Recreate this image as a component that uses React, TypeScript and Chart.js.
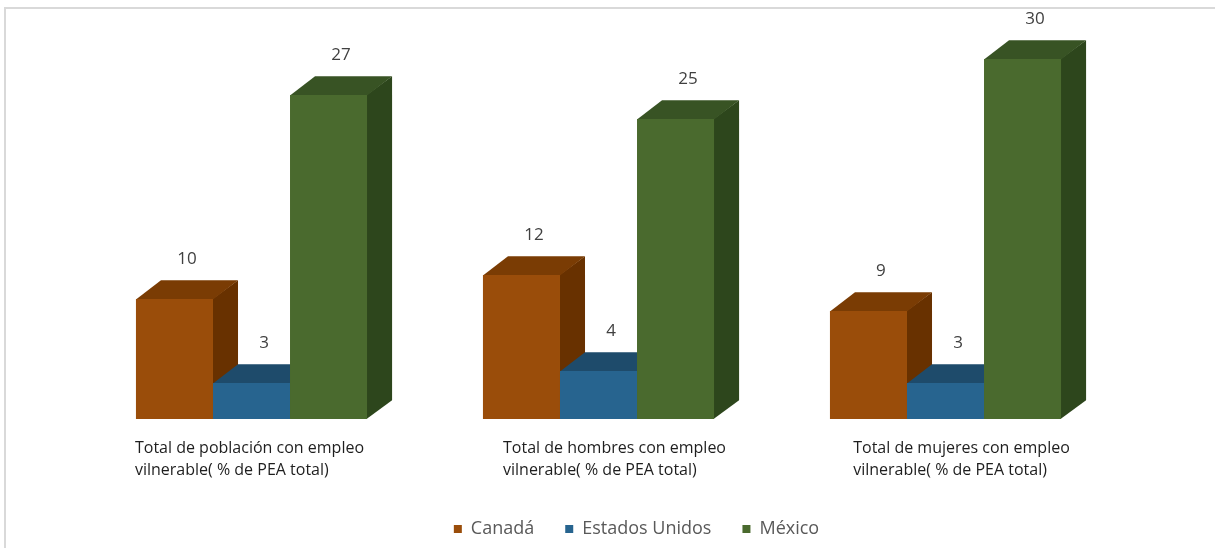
import React, { useEffect, useRef } from "react";
import { Chart, registerables } from "chart.js";

Chart.register(...registerables);

// ---------- data ----------
const categoryLine1 = [
  "Total de población con empleo",
  "Total de hombres con empleo",
  "Total de mujeres con empleo",
];
const categoryLine2 = [
  "vilnerable( % de PEA total)",
  "vilnerable( % de PEA total)",
  "vilnerable( % de PEA total)",
];
const seriesNames = ["Canadá", "Estados Unidos", "México"];
const canadaValues = [10, 12, 9];
const estadosUnidosValues = [3, 4, 3];
const mexicoValues = [27, 25, 30];
const yMin = 0;
const yMax = 32;

// ---------- styles ----------
const frontColors = ["#9A4D0A", "#27648F", "#4A6A2E"];
const topColors = ["#7A3C04", "#1E4B6B", "#385324"];
const sideColors = ["#683100", "#1A4060", "#2D461C"];
const FONT = "'Open Sans', 'Noto Sans', sans-serif";
const labelShift = [-2, 16, 16];

const bars3d = {
  id: "bars3d",
  beforeDraw(chart: any) {
    const ctx = chart.ctx;
    ctx.save();
    ctx.fillStyle = "#ffffff";
    ctx.fillRect(0, 0, chart.width, chart.height);
    ctx.strokeStyle = "#d9d9d9";
    ctx.lineWidth = 2;
    ctx.strokeRect(5, 8, chart.width + 50, chart.height + 50);
    ctx.restore();
  },
  beforeDatasetsDraw(chart: any) {
    const ctx = chart.ctx;
    ctx.save();
    const geo: any[] = [];
    chart.data.datasets.forEach((ds: any, di: number) => {
      const meta = chart.getDatasetMeta(di);
      meta.data.forEach((el: any, i: number) => {
        const { x, y, base, width } = el.getProps(["x", "y", "base", "width"], true);
        const l = x - width / 2;
        const r = x + width / 2;
        const dx = width * 0.325;
        const dy = width * 0.245;
        // side face
        ctx.fillStyle = sideColors[di];
        ctx.beginPath();
        ctx.moveTo(r - 0.5, y);
        ctx.lineTo(r + dx, y - dy);
        ctx.lineTo(r + dx, base - dy);
        ctx.lineTo(r - 0.5, base);
        ctx.closePath();
        ctx.fill();
        // top face
        ctx.fillStyle = topColors[di];
        ctx.beginPath();
        ctx.moveTo(l, y + 0.5);
        ctx.lineTo(l + dx, y - dy);
        ctx.lineTo(r + dx, y - dy);
        ctx.lineTo(r, y + 0.5);
        ctx.closePath();
        ctx.fill();
        // front face
        ctx.fillStyle = frontColors[di];
        ctx.fillRect(l, y, width, base - y);
        geo.push({ x: x + dx / 2, y: y - dy, v: ds.data[i] });
      });
    });
    // value labels
    ctx.fillStyle = "#404040";
    ctx.font = `17px ${FONT}`;
    ctx.textAlign = "center";
    ctx.textBaseline = "middle";
    geo.forEach((g) => ctx.fillText(String(g.v), g.x, g.y - 21));
    // category labels
    const xs = chart.scales.x;
    const area = chart.chartArea;
    ctx.fillStyle = "#1e1e1e";
    ctx.font = `16px ${FONT}`;
    ctx.textAlign = "left";
    ctx.textBaseline = "alphabetic";
    categoryLine1.forEach((t1, i) => {
      const t2 = categoryLine2[i];
      const w = Math.max(ctx.measureText(t1).width, ctx.measureText(t2).width);
      const cx = xs.getPixelForValue(i) + labelShift[i];
      const left = cx - w / 2;
      ctx.fillText(t1, left, area.bottom + 34);
      ctx.fillText(t2, left, area.bottom + 56);
    });
    ctx.restore();
    return false;
  },
};

export default function App() {
  const ref = useRef<HTMLCanvasElement | null>(null);
  useEffect(() => {
    if (!ref.current) return;
    const hidden = {
      grid: { display: false },
      border: { display: false },
      ticks: { display: false },
    };
    const chart = new Chart(ref.current, {
      type: "bar",
      data: {
        labels: categoryLine1,
        datasets: [
          { label: seriesNames[0], data: canadaValues, backgroundColor: frontColors[0] },
          { label: seriesNames[1], data: estadosUnidosValues, backgroundColor: frontColors[1] },
          { label: seriesNames[2], data: mexicoValues, backgroundColor: frontColors[2] },
        ],
      },
      options: {
        responsive: false,
        animation: false,
        devicePixelRatio: 1,
        layout: { padding: { left: 58, right: 0, top: 35, bottom: 0 } },
        datasets: { bar: { categoryPercentage: 0.666, barPercentage: 1 } },
        scales: {
          x: {
            type: "category",
            ...hidden,
            afterFit: (s: any) => {
              s.height = 70;
            },
          },
          y: {
            type: "linear",
            min: yMin,
            max: yMax,
            ...hidden,
            afterFit: (s: any) => {
              s.width = 20;
            },
          },
          yR: {
            type: "linear",
            position: "right",
            min: yMin,
            max: yMax,
            ...hidden,
            afterFit: (s: any) => {
              s.width = 96;
            },
          },
        },
        plugins: {
          tooltip: { enabled: false },
          legend: {
            position: "bottom",
            labels: {
              boxWidth: 8,
              boxHeight: 8,
              padding: 31,
              color: "#595959",
              font: { family: FONT, size: 18 },
            },
          },
        },
      },
      plugins: [bars3d],
    });
    return () => chart.destroy();
  }, []);
  return (
    <div style={{ position: "fixed", left: 0, top: 0, width: 1215, height: 548, background: "#fff" }}>
      <canvas ref={ref} width={1215} height={548} style={{ display: "block" }} />
    </div>
  );
}
